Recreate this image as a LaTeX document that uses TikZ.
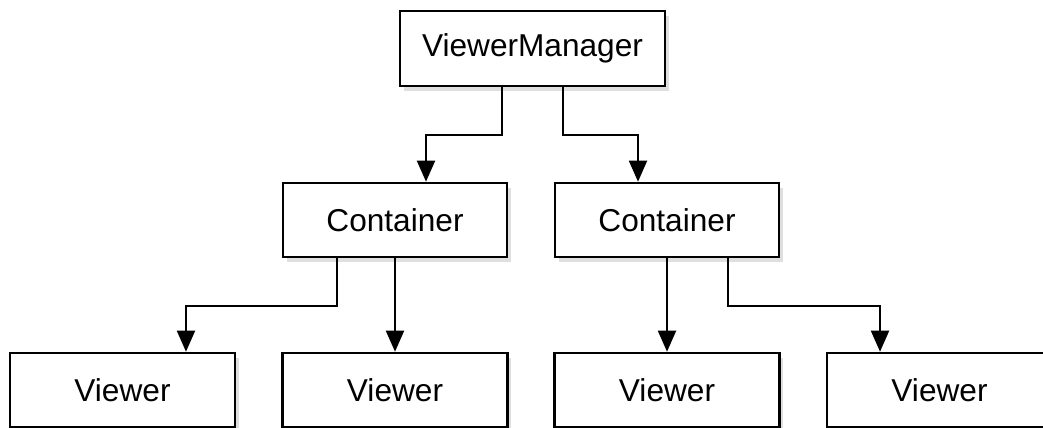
\documentclass[tikz,border=0pt]{standalone}
\usepackage{fontspec}
\setmainfont{Liberation Sans}
\usepackage{tikz}
\usetikzlibrary{arrows.meta,shadows}

\tikzset{
  box/.style={shape=rectangle, draw=black, fill=white, line width=1.2pt,
    minimum height=1.49cm, inner sep=0pt, font=\fontsize{18}{20}\selectfont,
    drop shadow={opacity=0.25, shadow xshift=0.08cm, shadow yshift=-0.1cm}},
  link/.style={line width=1.1pt, -{Triangle[length=0.42cm,width=0.36cm]}}
}

\begin{document}
\begin{tikzpicture}[x=0.02cm, y=-0.02cm]
    \useasboundingbox (0,0) rectangle (1043,428);
    \node[box, minimum width=5.3cm] at (532.5,48.5) (VM) {ViewerManager};
    \node[box, minimum width=4.48cm] at (395,220) (C1) {Container};
    \node[box, minimum width=4.48cm] at (667,220) (C2) {Container};
    \node[box, minimum width=4.5cm] at (122.5,390) (V1) {Viewer};
    \node[box, minimum width=4.5cm] at (395,390) (V2) {Viewer};
    \node[box, minimum width=4.5cm] at (667,390) (V3) {Viewer};
    \node[box, minimum width=4.5cm] at (939.5,390) (V4) {Viewer};
    \draw[link] ([xshift=-0.61cm]VM.south) -- ++(0,48) -| ([xshift=0.62cm]C1.north);
    \draw[link] ([xshift=0.61cm]VM.south) -- ++(0,48) -| ([xshift=-0.58cm]C2.north);
    \draw[link] ([xshift=-1.16cm]C1.south) -- ++(0,48) -| ([xshift=1.27cm]V1.north);
    \draw[link] (C1) -- (V2);
    \draw[link] (C2) -- (V3);
    \draw[link] ([xshift=1.22cm]C2.south) -- ++(0,48) -| ([xshift=-1.19cm]V4.north);
\end{tikzpicture}
\end{document}
